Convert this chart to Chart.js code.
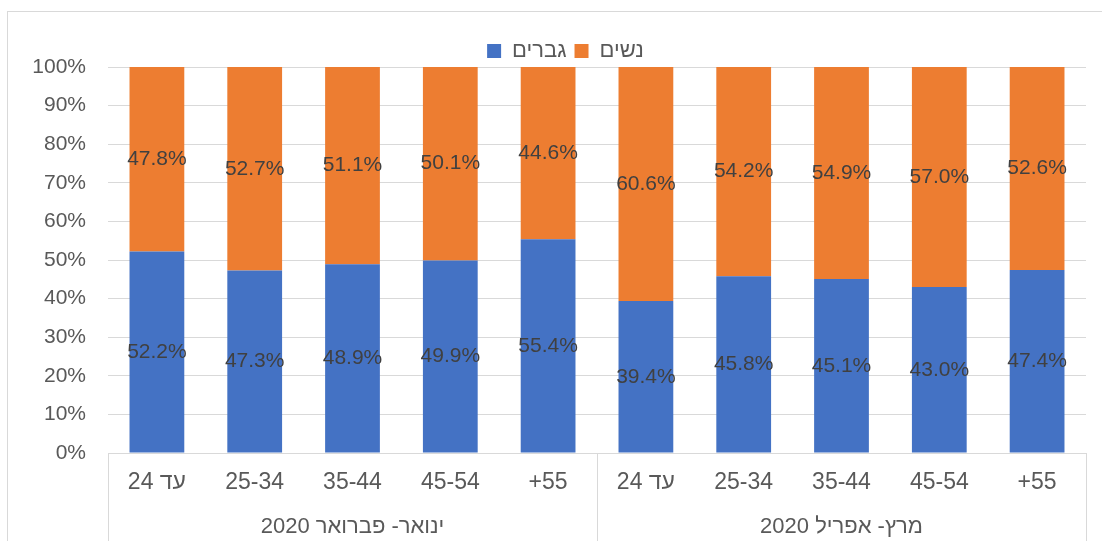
<!DOCTYPE html>
<html lang="he">
<head>
    <meta charset="UTF-8">
    <title>גברים ונשים לפי גיל</title>
    <script src="https://cdn.jsdelivr.net/npm/chart.js"></script>
    <style>
        html, body { margin: 0; padding: 0; background: #fff; }
        .chart-container { position: relative; width: 1102px; height: 541px; }
        #chart { direction: rtl; }
    </style>
</head>
<body>
    <div class="chart-container">
        <canvas id="chart"></canvas>
    </div>
    <script>
        const ageGroups = ['עד 24', '25-34', '35-44', '45-54', '55+', 'עד 24', '25-34', '35-44', '45-54', '55+'];
        const periods = ['ינואר- פברואר 2020', 'מרץ- אפריל 2020'];
        const men = [52.2, 47.3, 48.9, 49.9, 55.4, 39.4, 45.8, 45.1, 43.0, 47.4];
        const women = [47.8, 52.7, 51.1, 50.1, 44.6, 60.6, 54.2, 54.9, 57.0, 52.6];
        const yTicks = [0, 10, 20, 30, 40, 50, 60, 70, 80, 90, 100];

        const FONT = '"Liberation Sans", Arial, sans-serif';
        const gridColor = '#d9d9d9';

        // hebrew labels need right-to-left text, and the outer frame
        const frame = {
            id: 'frame',
            afterLayout(chart) {
                // legend sits a bit right of centre and closer to the bars in the original
                chart.legend.left += 45;
                chart.legend.top += 5;
                chart.legend.bottom += 5;
            },
            beforeDraw(chart) {
                const ctx = chart.ctx;
                ctx.direction = 'rtl';
                ctx.save();
                ctx.strokeStyle = gridColor;
                ctx.lineWidth = 1;
                ctx.strokeRect(7.5, 11.5, chart.width + 10, chart.height + 10);
                ctx.restore();
            }
        };

        // value labels centred in each segment
        const barLabels = {
            id: 'barLabels',
            afterDatasetsDraw(chart) {
                const ctx = chart.ctx;
                ctx.save();
                ctx.font = '21px ' + FONT;
                ctx.fillStyle = '#404040';
                ctx.textAlign = 'center';
                ctx.textBaseline = 'middle';
                chart.data.datasets.forEach((ds, i) => {
                    chart.getDatasetMeta(i).data.forEach((bar, j) => {
                        ctx.fillText(ds.data[j].toFixed(1) + '%', bar.x, (bar.y + bar.base) / 2);
                    });
                });
                ctx.restore();
            }
        };

        // second row of the category axis: period names and dividers
        const periodAxis = {
            id: 'periodAxis',
            afterDraw(chart) {
                const ctx = chart.ctx;
                const x = chart.scales.x;
                const perGroup = ageGroups.length / periods.length;
                ctx.save();
                ctx.strokeStyle = gridColor;
                ctx.lineWidth = 1;
                for (let g = 0; g <= periods.length; g++) {
                    const px = Math.round(x.getPixelForValue(g * perGroup - 0.5)) + 0.5;
                    ctx.beginPath();
                    ctx.moveTo(px, x.top);
                    ctx.lineTo(px, chart.height);
                    ctx.stroke();
                }
                ctx.direction = 'rtl';
                ctx.font = '22px ' + FONT;
                ctx.fillStyle = '#595959';
                ctx.textAlign = 'center';
                ctx.textBaseline = 'middle';
                periods.forEach((p, g) => {
                    const cx = x.getPixelForValue(g * perGroup + (perGroup - 1) / 2);
                    ctx.fillText(p, cx, 527);
                });
                ctx.restore();
            }
        };

        new Chart(document.getElementById('chart'), {
            type: 'bar',
            data: {
                labels: ageGroups,
                datasets: [
                    { label: 'גברים', data: men, backgroundColor: '#4472C4' },
                    { label: 'נשים', data: women, backgroundColor: '#ED7D31' }
                ]
            },
            options: {
                responsive: true,
                maintainAspectRatio: false,
                animation: false,
                layout: { padding: { top: 27, right: 16, left: 0, bottom: 0 } },
                datasets: { bar: { categoryPercentage: 1, barPercentage: 0.56 } },
                plugins: {
                    legend: {
                        position: 'top',
                        labels: {
                            boxWidth: 14,
                            boxHeight: 14,
                            padding: 8,
                            color: '#595959',
                            font: { family: FONT, size: 22 }
                        }
                    },
                    tooltip: { enabled: false }
                },
                scales: {
                    x: {
                        stacked: true,
                        grid: { display: false },
                        border: { color: gridColor },
                        ticks: {
                            color: '#595959',
                            padding: 8,
                            maxRotation: 0,
                            autoSkip: false,
                            font: { family: FONT, size: 23 }
                        },
                        afterFit(scale) { scale.height = 88; }
                    },
                    y: {
                        stacked: true,
                        min: 0,
                        max: 100,
                        afterBuildTicks(scale) { scale.ticks = yTicks.map(v => ({ value: v })); },
                        grid: { color: gridColor, drawTicks: false },
                        border: { display: false },
                        ticks: {
                            color: '#595959',
                            padding: 22,
                            font: { family: FONT, size: 21 },
                            callback: v => v + '%'
                        },
                        afterFit(scale) { scale.width = 108; }
                    }
                }
            },
            plugins: [frame, barLabels, periodAxis]
        });
    </script>
</body>
</html>
